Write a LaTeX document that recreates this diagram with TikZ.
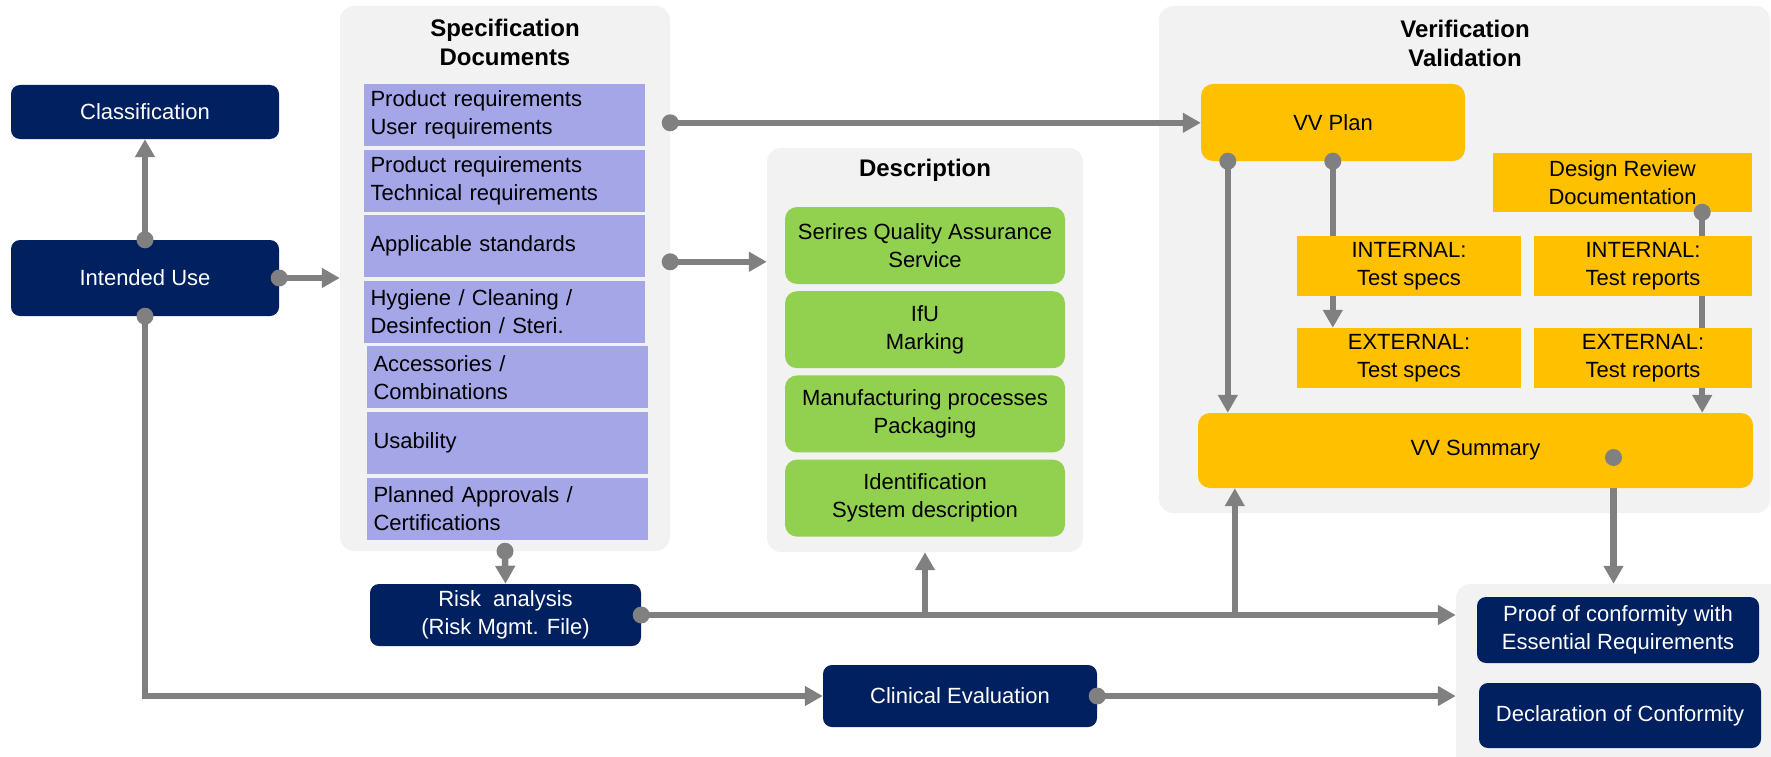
\documentclass[tikz,border=0pt]{standalone}
\usepackage{fontspec}
\setmainfont{Liberation Sans}
\usetikzlibrary{calc,positioning,arrows.meta}
\usepackage{xcolor}

\definecolor{navy}{RGB}{0,32,96}
\definecolor{lilac}{RGB}{164,166,232}
\definecolor{leaf}{RGB}{146,208,80}
\definecolor{amber}{RGB}{255,192,0}
\definecolor{panelgray}{RGB}{242,242,242}
\definecolor{linkgray}{RGB}{128,128,128}

\pgfdeclarelayer{panels}
\pgfdeclarelayer{links}
\pgfsetlayers{panels,links,main}

\begin{document}
\begin{tikzpicture}[x=1pt, y=-1pt, font=\fontsize{22}{28}\selectfont,
    panelbox/.style={fill=panelgray, rounded corners=14pt, inner sep=0pt},
    headtxt/.style={font=\fontsize{24}{29}\selectfont\bfseries, align=center},
    navybox/.style={fill=navy, text=white, rounded corners=9pt, align=center, inner sep=0pt},
    reqbox/.style={fill=lilac, text width=267pt, inner xsep=7pt, inner ysep=0pt, minimum height=62pt, align=left},
    greenbox/.style={fill=leaf, rounded corners=12pt, minimum width=280pt, minimum height=77pt, align=center, inner sep=0pt},
    ybox/.style={fill=amber, align=center, inner sep=0pt},
    linkline/.style={draw=linkgray, line width=6.5pt},
    linkarrow/.style={linkline, -{Triangle[length=18pt,width=19pt]}}]

% Dot radius
\def\dotr{8.5pt}

\useasboundingbox (0,0) rectangle (1771,757);

% Grey panels
\begin{pgfonlayer}{panels}
\node[panelbox, minimum width=330pt, minimum height=545pt] (spec) at (505,278.5) {};
\node[panelbox, minimum width=316pt, minimum height=404pt] (desc) at (925,350) {};
\node[panelbox, minimum width=611pt, minimum height=507pt] (vv) at (1464.5,259.5) {};
\node[panelbox, minimum width=342pt, minimum height=200pt] (conf) at (1627,684) {};
\end{pgfonlayer}

\node[headtxt] (spectitle) at (505,42) {Specification\\Documents};
\node[headtxt] (desctitle) at (925,170) {Description};
\node[headtxt] (vvtitle) at (1465,43) {Verification\\Validation};

% Navy boxes
\node[navybox, minimum width=268pt, minimum height=54pt] (class) at (145,112) {Classification};
\node[navybox, minimum width=268pt, minimum height=76pt] (use) at (145,278) {Intended Use};
\node[navybox, minimum width=271pt, minimum height=62pt] (risk) at (505.5,615) {Risk~~analysis\\(Risk Mgmt. File)};
\node[navybox, minimum width=274pt, minimum height=62pt] (clin) at (960,696) {Clinical Evaluation};
\node[navybox, minimum width=282pt, minimum height=66pt] (proof) at (1618,630) {Proof of conformity with\\Essential Requirements};
\node[navybox, minimum width=282pt, minimum height=65pt] (decl) at (1620,715.5) {Declaration of Conformity};

% Specification rows
\foreach \i/\dx/\txt in {0/0/{Product requirements\\User requirements},
                         1/0/{Product requirements\\Technical requirements},
                         2/0/{Applicable standards},
                         3/0/{Hygiene / Cleaning /\\Desinfection / Steri.},
                         4/3/{Accessories /\\Combinations},
                         5/3/{Usability},
                         6/3/{Planned Approvals /\\Certifications}} {
    \node[reqbox] (req\i) at ({504+\dx},{115+65.6*\i}) {\txt};
}

% Description boxes
\foreach \i/\txt in {0/{Serires Quality Assurance\\Service},
                     1/{IfU\\Marking},
                     2/{Manufacturing processes\\Packaging},
                     3/{Identification\\System description}} {
    \node[greenbox] (green\i) at (925,{245.5+84.2*\i}) {\txt};
}

% Verification / validation boxes
\node[ybox, rounded corners=12pt, minimum width=264pt, minimum height=77pt] (plan) at (1333,122.5) {VV Plan};
\node[ybox, minimum width=259pt, minimum height=59pt] (review) at (1622.5,182.5) {Design Review\\Documentation};
\node[ybox, minimum width=224pt, minimum height=60pt] (int1) at (1409,266) {INTERNAL:\\Test specs};
\node[ybox, minimum width=218pt, minimum height=60pt] (int2) at (1643,266) {INTERNAL:\\Test reports};
\node[ybox, minimum width=224pt, minimum height=60pt] (ext1) at (1409,358) {EXTERNAL:\\Test specs};
\node[ybox, minimum width=218pt, minimum height=60pt] (ext2) at (1643,358) {EXTERNAL:\\Test reports};
\node[ybox, rounded corners=12pt, minimum width=555pt, minimum height=75pt] (sum) at (1475.5,450.5) {VV Summary};

% Start points of the connectors
\coordinate (specA) at ($(spec.north east)+(0,117)$);
\coordinate (specB) at ($(spec.north east)+(0,256)$);
\coordinate (planA) at ($(plan.south west)+(27,0)$);
\coordinate (planB) at ($(plan.south west)+(132,0)$);
\coordinate (revA) at ($(review.south east)+(-50,0)$);
\coordinate (sumA) at ($(sum.center)+(138,7)$);
\coordinate (jA) at (desc.south |- risk.east);
\coordinate (jB) at ($(sum.south west |- risk.east)+(37,0)$);

% Connectors
\begin{pgfonlayer}{links}
\draw[linkarrow] (use.north) -- (class.south);
\draw[linkarrow] (use.east) -- (use.east -| spec.west);
\draw[linkarrow] (use.south) |- (clin.west);
\draw[linkarrow] (specA) -- (specA -| plan.west);
\draw[linkarrow] (specB) -- (specB -| desc.west);
\draw[linkarrow] (spec.south) -- (risk.north);
\draw[linkarrow] (risk.east) -- (risk.east -| conf.west);
\draw[linkarrow] (jA) -- (desc.south);
\draw[linkarrow] (jB) -- (jB |- sum.south);
\draw[linkarrow] (clin.east) -- (clin.east -| conf.west);
\draw[linkarrow] (planA) -- (planA |- sum.north);
\draw[linkarrow] (planB) -- (planB |- ext1.north);
\draw[linkarrow] (revA) -- (revA |- sum.north);
\draw[linkarrow] (sumA) -- (sumA |- conf.north);
\end{pgfonlayer}

% Dots at the start of the connectors
\foreach \p in {use.north, use.east, use.south, specA, specB, spec.south,
                risk.east, clin.east, planA, planB, revA, sumA} {
    \fill[linkgray] (\p) circle (\dotr);
}
\end{tikzpicture}
\end{document}
